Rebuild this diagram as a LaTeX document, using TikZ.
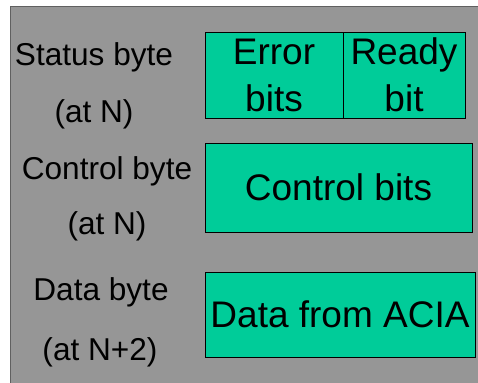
\documentclass[tikz,border=0pt]{standalone}
\usepackage{fontspec}
\setmainfont{Liberation Sans}
\definecolor{panelgray}{HTML}{969696}
\definecolor{panelrule}{HTML}{606060}
\definecolor{fieldgreen}{HTML}{00CC99}
\begin{document}
\begin{tikzpicture}[x=1pt,y=-1pt,
  field/.style={draw=black, fill=fieldgreen, line width=0.9pt, inner sep=0pt,
                font=\fontsize{37}{47}\selectfont, align=center},
  regname/.style={anchor=base, inner sep=0pt, font=\fontsize{31.6}{36}\selectfont}]
\useasboundingbox (0,0) rectangle (478,382);
% register panel
\draw[fill=panelgray, draw=panelrule, line width=1pt] (10,7) rectangle (482,386);

% status byte: error bits and ready bit
\node[field, minimum width=138pt, minimum height=86pt] (err) at (274,75) {Error\\bits};
\node[field, minimum width=122pt, minimum height=86pt] (rdy) at (404,75) {Ready\\bit};
% control byte
\node[field, minimum width=267pt, minimum height=89pt] (ctl) at (338.5,187.5) {Control bits};
% data byte
\node[field, minimum width=270pt, minimum height=85pt] (dat) at (340,314.5) {Data from ACIA};

% register names and addresses
\node[regname] (sname) at (94,66) {Status byte};
\node[regname] (saddr) at (94,123) {(at N)};
\node[regname] (cname) at (107,179) {Control byte};
\node[regname] (caddr) at (107,234) {(at N)};
\node[regname] (dname) at (101,300) {Data byte};
\node[regname] (daddr) at (100,360) {(at N+2)};
\end{tikzpicture}
\end{document}
